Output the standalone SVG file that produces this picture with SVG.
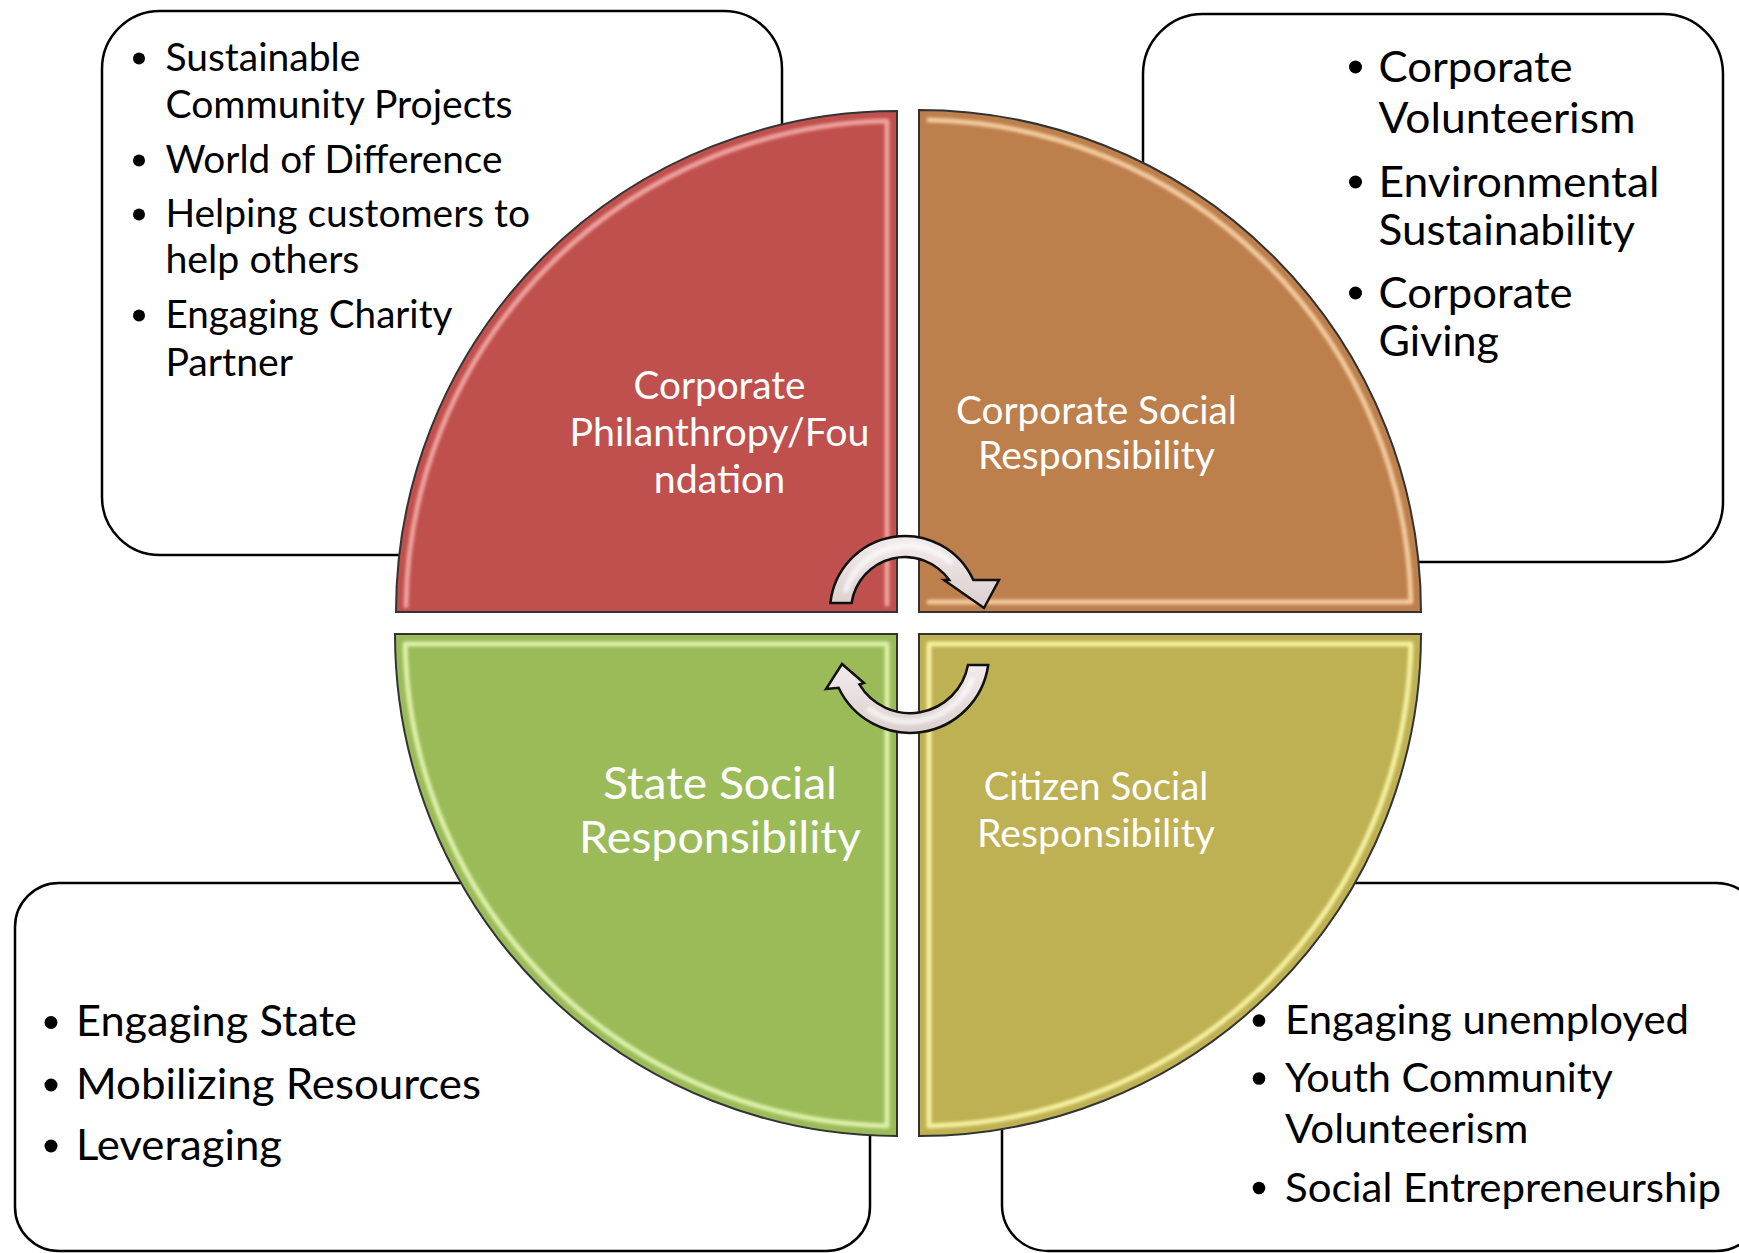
<svg xmlns="http://www.w3.org/2000/svg" width="1739" height="1253" viewBox="0 0 1739 1253">
  <defs>
    <style>
      .box { fill: #ffffff; stroke: #000000; stroke-width: 2.5; }
      .quad { stroke: #333333; stroke-width: 2; }
      .hl { fill: none; stroke-width: 5; stroke-linejoin: round; stroke-linecap: round; filter: url(#soft); opacity: 0.9; }
      .item { font-family: Lato, "Open Sans", "Liberation Sans", sans-serif; fill: #000000; }
      .lbl { font-family: Lato, "Open Sans", "Liberation Sans", sans-serif; fill: #ffffff; text-anchor: middle; }
      .dot { fill: #000000; }
      .arrow { fill: url(#arrowFill); stroke: #111111; stroke-width: 2.5; stroke-linejoin: miter; }
      .gloss { fill: none; stroke: #ffffff; stroke-width: 6; stroke-linecap: round; opacity: 0.6; filter: url(#soft); }
    </style>
    <filter id="soft" x="-10%" y="-10%" width="120%" height="120%">
      <feGaussianBlur stdDeviation="1.5"/>
    </filter>
    <linearGradient id="arrowFill" x1="0" y1="0" x2="0" y2="1">
      <stop offset="0" stop-color="#f3ecec"/>
      <stop offset="1" stop-color="#dccfcf"/>
    </linearGradient>
  </defs>

  <!-- bullet boxes behind the circle -->
  <g id="box-tl">
    <rect class="box" x="102" y="11" width="680" height="544" rx="58" ry="58"/>
    <circle class="dot" cx="139" cy="58.5" r="6"/>
    <circle class="dot" cx="139" cy="160.5" r="6"/>
    <circle class="dot" cx="139" cy="214.5" r="6"/>
    <circle class="dot" cx="139" cy="315.5" r="6"/>
    <text class="item" font-size="38" x="165.4" y="71" textLength="195" lengthAdjust="spacingAndGlyphs">Sustainable</text>
    <text class="item" font-size="38" x="165.4" y="118" textLength="347" lengthAdjust="spacingAndGlyphs">Community Projects</text>
    <text class="item" font-size="38" x="165.4" y="173" textLength="337" lengthAdjust="spacingAndGlyphs">World of Difference</text>
    <text class="item" font-size="38" x="165.4" y="227" textLength="364.6" lengthAdjust="spacingAndGlyphs">Helping customers to</text>
    <text class="item" font-size="38" x="165.4" y="273" textLength="194" lengthAdjust="spacingAndGlyphs">help others</text>
    <text class="item" font-size="38" x="165.4" y="328" textLength="287" lengthAdjust="spacingAndGlyphs">Engaging Charity</text>
    <text class="item" font-size="38" x="165.4" y="376" textLength="127.6" lengthAdjust="spacingAndGlyphs">Partner</text>
  </g>

  <g id="box-tr">
    <rect class="box" x="1143" y="14" width="580" height="548" rx="60" ry="60"/>
    <circle class="dot" cx="1355.5" cy="67" r="6.5"/>
    <circle class="dot" cx="1355.5" cy="182" r="6.5"/>
    <circle class="dot" cx="1355.5" cy="293" r="6.5"/>
    <text class="item" font-size="42.5" x="1378.5" y="82" textLength="194" lengthAdjust="spacingAndGlyphs">Corporate</text>
    <text class="item" font-size="42.5" x="1378.5" y="133" textLength="257" lengthAdjust="spacingAndGlyphs">Volunteerism</text>
    <text class="item" font-size="42.5" x="1378.5" y="197" textLength="281" lengthAdjust="spacingAndGlyphs">Environmental</text>
    <text class="item" font-size="42.5" x="1378.5" y="245" textLength="256.5" lengthAdjust="spacingAndGlyphs">Sustainability</text>
    <text class="item" font-size="42.5" x="1378.5" y="308" textLength="194" lengthAdjust="spacingAndGlyphs">Corporate</text>
    <text class="item" font-size="42.5" x="1378.5" y="356" textLength="120.5" lengthAdjust="spacingAndGlyphs">Giving</text>
  </g>

  <g id="box-bl">
    <rect class="box" x="15" y="883" width="855" height="368" rx="44" ry="44"/>
    <circle class="dot" cx="51" cy="1022.5" r="6.5"/>
    <circle class="dot" cx="51" cy="1085" r="6.5"/>
    <circle class="dot" cx="51" cy="1146" r="6.5"/>
    <text class="item" font-size="42.5" x="76" y="1036" textLength="281" lengthAdjust="spacingAndGlyphs">Engaging State</text>
    <text class="item" font-size="42.5" x="76" y="1098.5" textLength="405" lengthAdjust="spacingAndGlyphs">Mobilizing Resources</text>
    <text class="item" font-size="42.5" x="76" y="1159.5" textLength="206" lengthAdjust="spacingAndGlyphs">Leveraging</text>
  </g>

  <g id="box-br">
    <rect class="box" x="1002" y="883" width="760" height="368" rx="46" ry="46"/>
    <circle class="dot" cx="1259" cy="1020.5" r="6.3"/>
    <circle class="dot" cx="1259" cy="1078.5" r="6.3"/>
    <circle class="dot" cx="1259" cy="1188" r="6.3"/>
    <text class="item" font-size="40.7" x="1285" y="1034" textLength="404" lengthAdjust="spacingAndGlyphs">Engaging unemployed</text>
    <text class="item" font-size="40.7" x="1285" y="1092" textLength="328" lengthAdjust="spacingAndGlyphs">Youth Community</text>
    <text class="item" font-size="40.7" x="1285" y="1142.5" textLength="243.5" lengthAdjust="spacingAndGlyphs">Volunteerism</text>
    <text class="item" font-size="40.7" x="1285" y="1201.5" textLength="436" lengthAdjust="spacingAndGlyphs">Social Entrepreneurship</text>
  </g>

  <!-- four quarter-circle segments -->
  <g id="quad-philanthropy">
    <path class="quad" fill="#c0504d" d="M 897 612 L 396 612 A 501 501 0 0 1 897 111 Z"/>
    <path class="hl" stroke="#f3aaa7" d="M 406 606 A 491 491 0 0 1 887 121.1 L 887 604"/>
    <text class="lbl" font-size="38" x="719.5" y="399" textLength="172" lengthAdjust="spacingAndGlyphs">Corporate</text>
    <text class="lbl" font-size="38" x="719.5" y="445.5" textLength="300" lengthAdjust="spacingAndGlyphs">Philanthropy/Fou</text>
    <text class="lbl" font-size="38" x="719.5" y="492.5" textLength="131.5" lengthAdjust="spacingAndGlyphs">ndation</text>
  </g>

  <g id="quad-csr">
    <path class="quad" fill="#bd7f4c" d="M 919 612 L 919 110 A 502 502 0 0 1 1421 612 Z"/>
    <path class="hl" stroke="#f8d3a6" d="M 929 120.1 A 492 492 0 0 1 1410.9 602 L 929 602"/>
    <text class="lbl" font-size="38" x="1096.5" y="424" textLength="281" lengthAdjust="spacingAndGlyphs">Corporate Social</text>
    <text class="lbl" font-size="38" x="1096.5" y="469" textLength="237" lengthAdjust="spacingAndGlyphs">Responsibility</text>
  </g>

  <g id="quad-state">
    <path class="quad" fill="#9bbb59" d="M 897 634 L 897 1136 A 502 502 0 0 1 395 634 Z"/>
    <path class="hl" stroke="#e4f6b2" d="M 405.1 644 L 887 644 L 887 1125.9 A 492 492 0 0 1 405.1 644 Z"/>
    <text class="lbl" font-size="45" x="720" y="798.5" textLength="234" lengthAdjust="spacingAndGlyphs">State Social</text>
    <text class="lbl" font-size="45" x="720" y="853" textLength="282" lengthAdjust="spacingAndGlyphs">Responsibility</text>
  </g>

  <g id="quad-citizen">
    <path class="quad" fill="#beb153" d="M 919 634 L 1421 634 A 502 502 0 0 1 919 1136 Z"/>
    <path class="hl" stroke="#fbf7a8" d="M 929 644 L 1410.9 644 A 492 492 0 0 1 929 1125.9 Z"/>
    <text class="lbl" font-size="38" x="1096" y="800" textLength="224.5" lengthAdjust="spacingAndGlyphs">Citizen Social</text>
    <text class="lbl" font-size="38" x="1096" y="847" textLength="238" lengthAdjust="spacingAndGlyphs">Responsibility</text>
  </g>

  <!-- cycle arrows between the segments -->
  <g id="connectors">
    <path class="arrow" d="M 830.4 603 A 75 75 0 0 1 973.3 580 L 999 580 L 984 608 L 944 580 L 949.2 580 A 54 54 0 0 0 851.6 603 Z"/>
    <path class="gloss" d="M 846 590 A 64.5 64.5 0 0 1 950 562"/>
    <path class="arrow" d="M 988.2 665 A 79 79 0 0 1 838.6 687.8 L 826 689 L 842 664 L 864 683 L 859.4 684.4 A 59 59 0 0 0 968 665 Z"/>
    <path class="gloss" d="M 972 680 A 69 69 0 0 1 870 710"/>
  </g>
</svg>
